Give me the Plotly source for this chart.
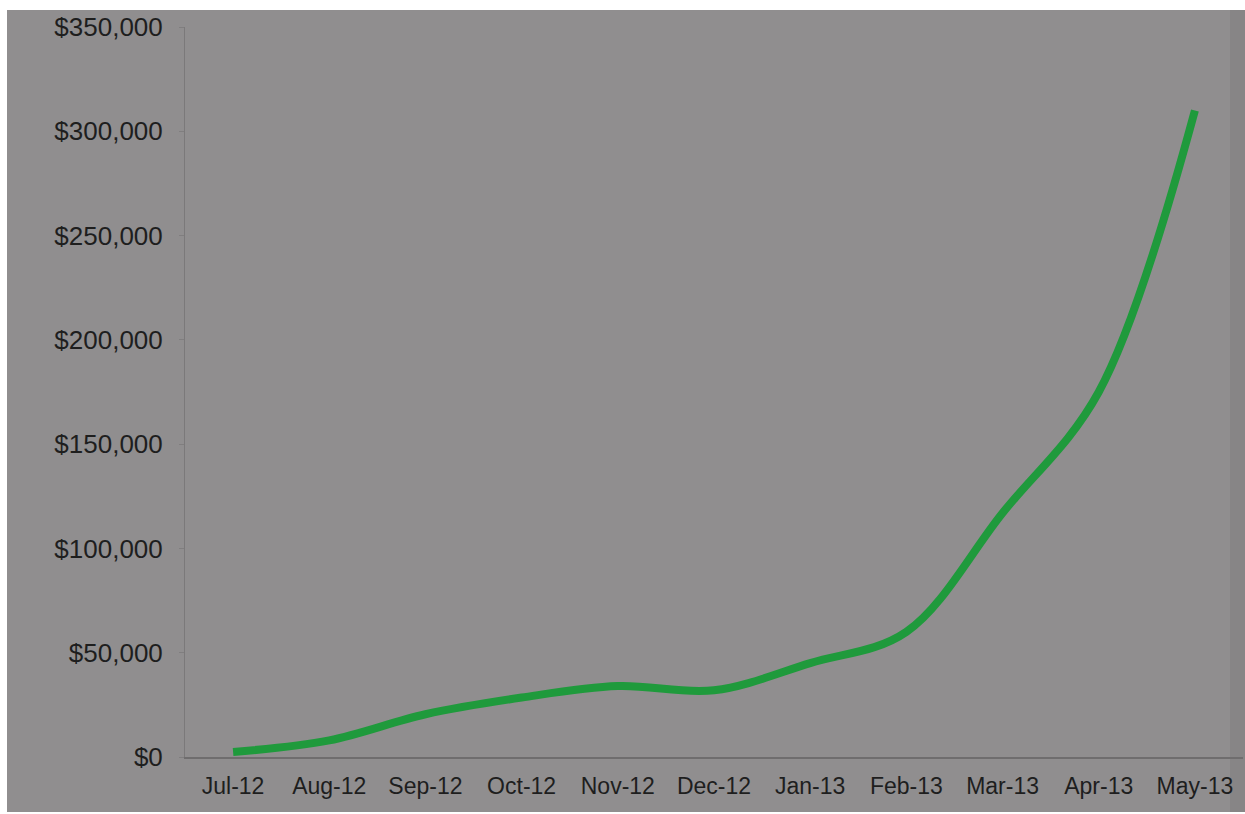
import plotly.graph_objects as go

months = ["Jul-12", "Aug-12", "Sep-12", "Oct-12", "Nov-12", "Dec-12",
          "Jan-13", "Feb-13", "Mar-13", "Apr-13", "May-13"]
revenue = [2400, 8000, 20500, 28500, 34000, 32000, 45000, 60000, 117000, 175000, 310000]
y_ticks = [0, 50000, 100000, 150000, 200000, 250000, 300000, 350000]
y_tick_labels = ["$0", "$50,000", "$100,000", "$150,000", "$200,000",
                 "$250,000", "$300,000", "$350,000"]

W, H = 1245, 814
ML, MR, MT, MB = 185, 2, 27, 57
PW, PH = W - ML - MR, H - MT - MB

def px_x(p):
    return (p - ML) / PW

def px_y(p):
    return (H - MB - p) / PH

GREY = "#908e8f"

fig = go.Figure()
fig.add_trace(go.Scatter(
    x=months, y=revenue, mode="lines",
    line=dict(color="#1f9a3c", width=8, shape="spline", smoothing=1.0),
    hoverinfo="skip", showlegend=False,
))

fig.update_layout(
    width=W, height=H,
    margin=dict(l=ML, r=MR, t=MT, b=MB, pad=0),
    paper_bgcolor="white",
    plot_bgcolor=GREY,
    font=dict(family="Liberation Sans, Arial, sans-serif", color="#1e1e1e"),
    xaxis=dict(
        range=[-0.5, 10.5], showgrid=False, zeroline=False,
        showline=True, linecolor="#6f6d6e", linewidth=2,
        ticks="", tickfont=dict(size=23), ticklabelstandoff=7,
        fixedrange=True,
    ),
    yaxis=dict(
        range=[0, 350000], showgrid=False, zeroline=False,
        showline=True, linecolor="#7b797a", linewidth=1,
        tickvals=y_ticks, ticktext=y_tick_labels,
        ticks="outside", ticklen=5, tickcolor="#807e7f",
        tickfont=dict(size=26), ticklabelstandoff=11,
        fixedrange=True,
    ),
    shapes=[
        dict(type="rect", xref="paper", yref="paper", layer="below",
             x0=px_x(7), x1=px_x(1245), y0=px_y(812), y1=px_y(10),
             fillcolor=GREY, line=dict(width=0)),
        dict(type="rect", xref="paper", yref="paper", layer="below",
             x0=px_x(1230), x1=px_x(1245), y0=px_y(812), y1=px_y(10),
             fillcolor="#878586", line=dict(width=0)),
    ],
)

fig.write_html("out.html")
